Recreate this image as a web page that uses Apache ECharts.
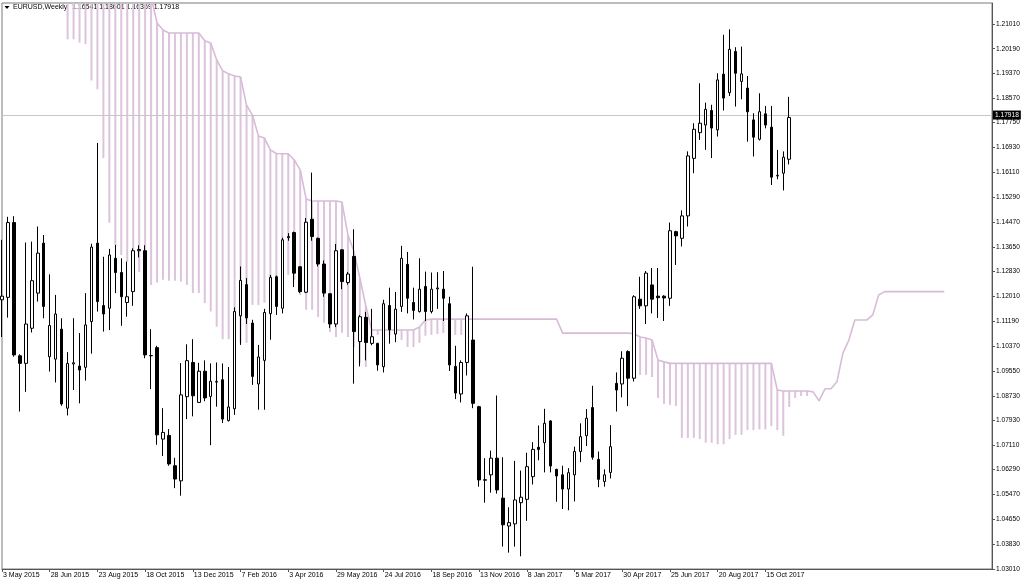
<!DOCTYPE html>
<html><head><meta charset="utf-8">
<script src="https://cdn.jsdelivr.net/npm/echarts@6/dist/echarts.min.js"></script>
<style>html,body{margin:0;padding:0;background:#fff;}#c{width:1024px;height:585px;}</style>
</head><body><div id="c"></div>
<script>
// ---- data (EURUSD weekly) ----
const totalSlots = 167;           // weekly slots incl. the projected cloud area
const opens = [1.1190,1.1198,1.1445,1.1005,1.0980,1.1096,1.1212,1.1377,1.1002,1.0994,
1.1093,1.0832,1.0978,1.0971,1.0967,1.1118,1.1377,1.1171,1.1162,1.1327,
1.1280,1.1181,1.1217,1.1352,1.1352,1.1006,1.1032,1.0730,1.0742,1.0642,
1.0592,1.0870,1.0983,1.0851,1.0954,1.0871,1.0918,1.0926,1.0791,1.0830,
1.1137,1.1240,1.1113,1.0912,1.0990,1.1144,1.1266,1.1162,1.1395,1.1412,
1.1299,1.1215,1.1456,1.1393,1.1308,1.1210,1.1110,1.1355,1.1247,1.1333,
1.1052,1.1132,1.1046,1.1046,1.0969,1.1171,1.1077,1.1168,1.1307,1.1181,
1.1151,1.1234,1.1151,1.1226,1.1225,1.1177,1.0970,1.0879,1.0983,1.1057,
1.0837,1.0594,1.0612,1.0667,1.0535,1.0443,1.0450,1.0520,1.0531,1.0606,
1.0703,1.0718,1.0790,1.0630,1.0612,1.0565,1.0612,1.0689,1.0741,1.0834,
1.0663,1.0590,1.0620,1.0914,1.0912,1.1019,1.0931,1.1192,1.1170,1.1239,
1.1202,1.1202,1.1195,1.1415,1.1393,1.1467,1.1657,1.1742,1.1767,1.1815,
1.1751,1.1935,1.1874,1.2010,1.1911,1.1889,1.1784,1.1720,1.1804,1.1760,
1.1599,1.1608,1.16541];
const closes = [1.1202,1.1445,1.1008,1.0980,1.1110,1.1253,1.1344,1.1168,1.1105,1.1143,
1.0846,1.0980,1.0982,1.0958,1.1107,1.1364,1.1184,1.1143,1.1338,1.1280,
1.1200,1.1200,1.1352,1.1356,1.1008,1.1005,1.0744,1.0752,1.0648,1.0598,
1.0876,1.0989,1.0873,1.0954,1.0866,1.0921,1.0920,1.0796,1.0836,1.1151,
1.1254,1.1130,1.0937,1.1001,1.1148,1.1264,1.1168,1.1388,1.1399,1.1278,
1.1217,1.1446,1.1399,1.1308,1.1212,1.1110,1.1352,1.1250,1.1275,1.1085,
1.1134,1.1049,1.1068,1.0975,1.1177,1.1091,1.1159,1.1327,1.1195,1.1155,
1.1225,1.1151,1.1225,1.1229,1.1195,1.0975,1.0882,1.0983,1.1137,1.0848,
1.0595,1.0596,1.0667,1.0562,1.0447,1.0454,1.0529,1.0538,1.0639,1.0696,
1.0696,1.0782,1.0641,1.0608,1.0565,1.0619,1.0689,1.0738,1.0799,1.0670,
1.0597,1.0612,1.0705,1.0892,1.0997,1.0931,1.1200,1.1170,1.1278,1.1192,
1.1197,1.1196,1.1418,1.1401,1.1467,1.1665,1.1753,1.1773,1.1819,1.1757,
1.1916,1.1856,1.2017,1.1938,1.1936,1.1811,1.1727,1.1811,1.1767,1.1595,
1.1601,1.1661,1.17918];
const lows = [1.1067,1.1131,1.1002,1.0821,1.0886,1.1082,1.1184,1.1129,1.0953,1.0917,
1.0840,1.0808,1.0892,1.0848,1.0923,1.1012,1.1151,1.1085,1.1090,1.1212,
1.1104,1.1134,1.1170,1.1330,1.0997,1.0895,1.0711,1.0674,1.0642,1.0568,
1.0543,1.0796,1.0805,1.0850,1.0855,1.0710,1.0837,1.0783,1.0788,1.0810,
1.1041,1.1110,1.0909,1.0827,1.0827,1.1058,1.1140,1.1145,1.1385,1.1232,
1.1212,1.1212,1.1385,1.1300,1.1200,1.1097,1.1100,1.1225,1.1240,1.0913,
1.0970,1.0990,1.1040,1.0956,1.0950,1.1045,1.1050,1.1150,1.1145,1.1125,
1.1148,1.1120,1.1145,1.1160,1.1120,1.0955,1.0862,1.0851,1.0940,1.0832,
1.0573,1.0520,1.0553,1.0550,1.0375,1.0355,1.0375,1.0343,1.0460,1.0580,
1.0660,1.0620,1.0620,1.0523,1.0499,1.0495,1.0524,1.0654,1.0707,1.0662,
1.0571,1.0573,1.0600,1.0821,1.0868,1.0839,1.0920,1.1160,1.1110,1.1145,
1.1130,1.1120,1.1170,1.1305,1.1366,1.1432,1.1608,1.1718,1.1685,1.1658,
1.1729,1.1815,1.1863,1.1828,1.1852,1.1712,1.1663,1.1716,1.1756,1.1569,
1.1588,1.1551,1.16369];
const highs = [1.1388,1.1464,1.1466,1.1010,1.1379,1.1382,1.1432,1.1404,1.1274,1.1206,
1.1129,1.1017,1.1129,1.1080,1.1212,1.1375,1.1708,1.1332,1.1358,1.1371,
1.1327,1.1316,1.1360,1.1370,1.1370,1.1093,1.1038,1.0832,1.0763,1.0668,
1.0981,1.1043,1.1060,1.0982,1.0990,1.0980,1.0983,1.0980,1.0968,1.1165,
1.1300,1.1262,1.1124,1.1041,1.1160,1.1272,1.1270,1.1395,1.1410,1.1415,
1.1300,1.1460,1.1610,1.1395,1.1320,1.1212,1.1374,1.1356,1.1282,1.1423,
1.1140,1.1150,1.1160,1.1048,1.1190,1.1230,1.1216,1.1368,1.1348,1.1230,
1.1327,1.1283,1.1280,1.1281,1.1285,1.1200,1.1038,1.0990,1.1145,1.1299,
1.0840,1.0667,1.0692,1.0874,1.0670,1.0505,1.0658,1.0626,1.0685,1.0720,
1.0775,1.0830,1.0792,1.0632,1.0642,1.0634,1.0705,1.0782,1.0829,1.0906,
1.0689,1.0630,1.0776,1.0950,1.1020,1.1023,1.1205,1.1266,1.1285,1.1295,
1.1295,1.1205,1.1445,1.1418,1.1485,1.1680,1.1773,1.1905,1.1841,1.1834,
1.1938,1.2065,1.2083,1.2024,1.2026,1.1929,1.1806,1.1872,1.1830,1.1830,
1.1685,1.1680,1.18601];

// Ichimoku Senkou Span B (drawn line), starting at week index 11
const spanStart = 11;
const senkouB = [1.2545,1.2545,1.2545,1.2545,1.2500,1.2460,1.2460,1.2400,1.2400,1.2340,
1.2300,1.2280,1.2250,1.2228,1.2190,1.2104,1.2081,1.2071,1.2071,1.2071,
1.2071,1.2071,1.2071,1.2045,1.2038,1.1982,1.1946,1.1936,1.1929,1.1926,
1.1833,1.1800,1.1731,1.1724,1.1685,1.1673,1.1672,1.1672,1.1652,1.1619,
1.1523,1.1516,1.1516,1.1516,1.1516,1.1516,1.1513,1.1404,1.1351,1.1262,
1.1170,1.1090,1.1090,1.1090,1.1090,1.1090,1.1090,1.1090,1.1090,1.1100,
1.1123,1.1126,1.1126,1.1126,1.1126,1.1126,1.1126,1.1126,1.1126,1.1126,
1.1126,1.1126,1.1126,1.1126,1.1126,1.1126,1.1126,1.1126,1.1126,1.1126,
1.1126,1.1126,1.1126,1.1080,1.1080,1.1080,1.1080,1.1080,1.1080,1.1080,
1.1080,1.1080,1.1080,1.1080,1.1080,1.1078,1.1067,1.1064,1.1057,1.0991,
1.0985,1.0980,1.0980,1.0980,1.0980,1.0980,1.0980,1.0980,1.0980,1.0980,
1.0980,1.0980,1.0980,1.0980,1.0980,1.0980,1.0980,1.0980,1.0980,1.0892,
1.0889,1.0889,1.0889,1.0889,1.0889,1.0886,1.0856,1.0896,1.0896,1.0919,
1.1014,1.1057,1.1123,1.1123,1.1123,1.1140,1.1206,1.1217,1.1217,1.1217,
1.1217,1.1217,1.1217,1.1217,1.1217,1.1217,1.1217,1.1217];
// lower end of the hatched (bearish) kumo = Senkou Span A, where it lies below B
const kumoLeftStart = 11;
const kumoBottomLeft = [1.2050,1.2050,1.2039,1.2034,1.1914,1.1885,1.1658,1.1444,1.1371,1.1338,
1.1315,1.1295,1.1282,1.1272,1.1239,1.1247,1.1256,1.1253,1.1253,1.1250,
1.1239,1.1212,1.1212,1.1179,1.1151,1.1101,1.1060,1.1060,1.1041,1.1048,
1.1048,1.1173,1.1173,1.1180,1.1213,1.1232,1.1265,1.1272,1.1256,1.1206,
1.1157,1.1157,1.1133,1.1114,1.1084,1.1067,1.1081,1.1067,1.1034,1.0981,
1.0968,1.1048,1.1074,1.1074,1.1074,1.1074,1.1057,1.1034,1.1034,1.1048,
1.1071,1.1074,1.1077,1.1080,1.1074,1.1074,1.1074];
const kumoRightStart = 106;
const kumoBottomRight = [1.0958,1.0942,1.0942,1.0935,1.0866,1.0846,1.0843,1.0839,1.0734,1.0734,
1.0734,1.0730,1.0718,1.0718,1.0713,1.0713,1.0730,1.0744,1.0744,1.0760,
1.0760,1.0762,1.0762,1.0773,1.0760,1.0741,1.0836,1.0866,1.0872,1.0872];

const xTickLabels = ['3 May 2015','28 Jun 2015','23 Aug 2015','18 Oct 2015','13 Dec 2015','7 Feb 2016',
'3 Apr 2016','29 May 2016','24 Jul 2016','18 Sep 2016','13 Nov 2016','8 Jan 2017','5 Mar 2017',
'30 Apr 2017','25 Jun 2017','20 Aug 2017','15 Oct 2017'];
const yTickLabels = [1.21010,1.20190,1.19370,1.18570,1.17750,1.16930,1.16110,1.15290,1.14470,1.13650,
1.12830,1.12010,1.11190,1.10370,1.09550,1.08730,1.07930,1.07110,1.06290,1.05470,1.04650,1.03830,1.03010];
const lastPrice = 1.17918;
const headerValues = ['1.16541','1.18601','1.16369','1.17918'];

// ---- build ----
const monthNames = ['Jan','Feb','Mar','Apr','May','Jun','Jul','Aug','Sep','Oct','Nov','Dec'];
const categories = [];
for (let i = 0; i < totalSlots; i++) {
  const d = new Date(Date.UTC(2015, 4, 3 + 7 * i));
  categories.push(d.getUTCDate() + ' ' + monthNames[d.getUTCMonth()] + ' ' + d.getUTCFullYear());
}
const candles = opens.map((o, i) => [o, closes[i], lows[i], highs[i]]);
const spanBLine = categories.map((c, i) => {
  const k = i - spanStart;
  return (k >= 0 && k < senkouB.length) ? senkouB[k] : null;
});
const hatch = [];
kumoBottomLeft.forEach((a, k) => { const i = kumoLeftStart + k; hatch.push([i, a, senkouB[i - spanStart]]); });
kumoBottomRight.forEach((a, k) => { const i = kumoRightStart + k; hatch.push([i, a, senkouB[i - spanStart]]); });
const showTick = (idx, val) => xTickLabels.indexOf(categories[idx]) >= 0;

const font = 'Liberation Sans, Arial, sans-serif';
const chart = echarts.init(document.getElementById('c'), null, {renderer: 'canvas'});
chart.setOption({
  animation: false,
  backgroundColor: '#ffffff',
  grid: {left: 2, right: 32, top: 3, bottom: 16, show: true, borderColor: '#7a7a7a', borderWidth: 1, backgroundColor: 'transparent'},
  graphic: [
    {type: 'polygon', z: 0, shape: {points: [[4.5, 6], [9.5, 6], [7, 9]]}, style: {fill: '#000'}},
    {type: 'text', z: 0, left: 13, top: 4, style: {text: 'EURUSD,Weekly', fontSize: 7, fontFamily: font, fill: '#000'}},
    {type: 'text', z: 0, left: 72, top: 4, style: {text: headerValues.join(' '), fontSize: 7, fontFamily: font, fill: '#000'}}
  ],
  xAxis: {
    type: 'category', data: categories, boundaryGap: false,
    axisLine: {show: true, lineStyle: {color: '#555', width: 1}},
    axisTick: {show: true, interval: showTick, length: 3, lineStyle: {color: '#555'}},
    axisLabel: {interval: showTick, fontSize: 7, fontFamily: font, color: '#000', align: 'left', margin: 3, padding: [0, 0, 0, 1]},
    splitLine: {show: false}
  },
  yAxis: {
    type: 'value', position: 'right', min: 1.0301, max: 1.2170,
    axisLine: {show: true, lineStyle: {color: '#555', width: 1}},
    axisTick: {show: true, customValues: yTickLabels, length: 3, lineStyle: {color: '#555'}},
    axisLabel: {customValues: yTickLabels, formatter: v => v.toFixed(5), fontSize: 6.6, fontFamily: font, color: '#000', margin: 4},
    splitLine: {show: false}
  },
  series: [
    {
      name: 'Kumo', type: 'custom', z: 2, clip: true, silent: true,
      data: hatch, encode: {x: 0, y: [1, 2]},
      renderItem: (params, api) => {
        const p1 = api.coord([api.value(0), api.value(2)]);
        const p2 = api.coord([api.value(0), api.value(1)]);
        return {type: 'line', shape: {x1: p1[0], y1: p1[1], x2: p2[0], y2: p2[1]},
                style: {stroke: '#DCC4DC', lineWidth: 2}};
      }
    },
    {
      name: 'Senkou Span B', type: 'line', z: 3, data: spanBLine, symbol: 'none', showSymbol: false, silent: true,
      lineStyle: {color: '#D8BBD8', width: 1.6},
      markLine: {
        symbol: 'none', silent: true, animation: false,
        data: [{yAxis: lastPrice}],
        lineStyle: {color: '#c6c6c6', type: 'solid', width: 1},
        label: {position: 'end', formatter: lastPrice.toFixed(5), color: '#fff', backgroundColor: '#000',
                fontSize: 6.6, fontFamily: font, padding: [1, 2, 1, 2], distance: 1}
      }
    },
    {
      name: 'EURUSD', type: 'candlestick', z: 5, data: candles, barWidth: 3, clip: true,
      itemStyle: {color: '#ffffff', color0: '#000000', borderColor: '#000000', borderColor0: '#000000', borderWidth: 1}
    }
  ]
});
</script></body></html>
